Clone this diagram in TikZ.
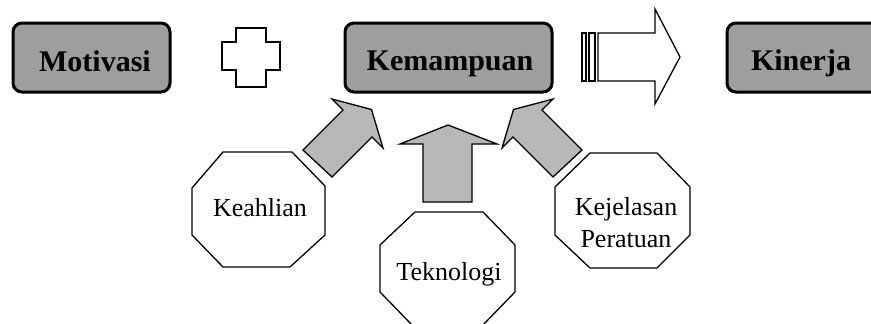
\documentclass[tikz,border=0pt]{standalone}
\usepackage{fontspec}
\setmainfont{Liberation Serif}
\begin{document}
\begin{tikzpicture}[x=1pt,y=-1pt,
  topbox/.style={draw=black, line width=3pt, rounded corners=9pt, fill=black!38},
  toptext/.style={font=\fontsize{30}{30}\selectfont\bfseries, anchor=base, inner sep=0pt},
  octo/.style={draw=black, line width=1.3pt, fill=white, line join=miter},
  octtext/.style={font=\fontsize{26}{32}\selectfont, align=center, inner sep=0pt, anchor=base},
  blockarrow/.style={draw=black, line width=1.3pt, fill=black!28, line join=miter},
  outlineshape/.style={draw=black, line width=1.3pt, fill=white, line join=miter}]
\useasboundingbox (0,0) rectangle (871,324);

% top boxes
\draw[topbox] (13,23) rectangle (170,92);
\node[toptext] (motivasi) at (95,71) {Motivasi};
\draw[topbox] (345,23) rectangle (552,92);
\node[toptext] (kemampuan) at (450,70) {Kemampuan};
\draw[topbox] (727,23) rectangle (882,92);
\node[toptext] (kinerja) at (801,70) {Kinerja};

% plus sign
\draw[outlineshape] (236,28) -- (266,28) -- (266,42) -- (280,42) -- (280,70) -- (266,70)
  -- (266,87) -- (236,87) -- (236,70) -- (222,70) -- (222,42) -- (236,42) -- cycle;

% striped big arrow
\draw[outlineshape] (582,33) rectangle (586,81);
\draw[outlineshape] (589,33) rectangle (595,81);
\draw[outlineshape] (598,33) -- (655,33) -- (655,9) -- (680,57) -- (655,104) -- (655,81) -- (598,81) -- cycle;

% octagons
\draw[octo] (223,152) -- (292,152) -- (325,186) -- (325,235) -- (290,267) -- (223,267) -- (192,235) -- (192,188) -- cycle;
\node[octtext] (keahlian) at (260,216) {Keahlian};

\draw[octo] (415,212) -- (483,212) -- (515,245) -- (515,292) -- (482,326) -- (413,326) -- (380,292) -- (380,245) -- cycle;
\node[octtext] (teknologi) at (449,280) {Teknologi};

\draw[octo] (590,153) -- (657,153) -- (690,187) -- (690,235) -- (657,268) -- (590,268) -- (555,235) -- (555,187) -- cycle;
\node[octtext] (kejelasan) at (626,247) {Kejelasan\\Peratuan};

% block arrows
\draw[blockarrow] (303,150) -- (343,110) -- (332,99) -- (371.5,109.5) -- (383,148) -- (372,137) -- (332,177) -- cycle;
\draw[blockarrow] (423,202) -- (423,144) -- (400,144) -- (448,125) -- (497,144) -- (472,144) -- (472,202) -- cycle;
\draw[blockarrow] (582,150) -- (542,110) -- (553,99) -- (513.5,109.5) -- (502,148) -- (513,137) -- (553,177) -- cycle;
\end{tikzpicture}
\end{document}
